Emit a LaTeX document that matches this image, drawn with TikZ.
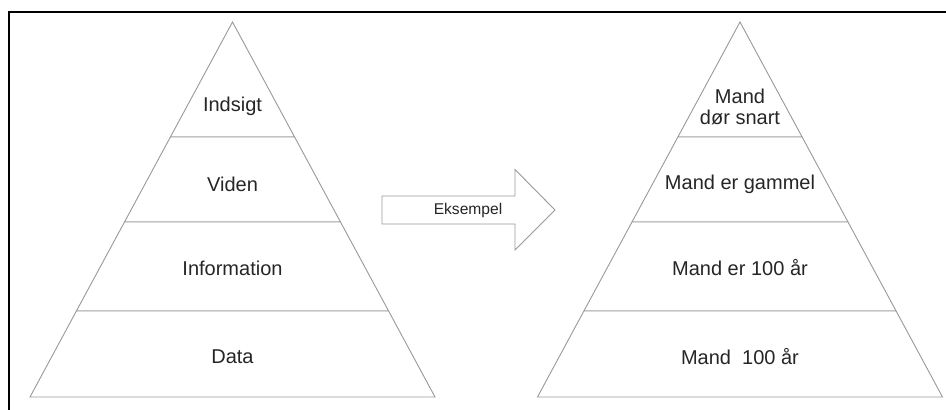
\documentclass[tikz,border=0pt]{standalone}
\usepackage{fontspec}
\setmainfont{Liberation Sans}
\begin{document}
\begin{tikzpicture}[x=1pt,y=-1pt,
  tier/.style={draw=black!40, line width=0.9pt, fill=white},
  label/.style={text=black!85, font=\fontsize{20}{21}\selectfont, align=center, inner sep=0pt},
  arrowlabel/.style={text=black!85, font=\fontsize{15.6}{17}\selectfont, inner sep=0pt},
  frame/.style={draw=black, line width=2.5pt}]
\useasboundingbox (0,0) rectangle (946,410);
% outer frame (only the left and top edges fall inside the page)
\draw[frame] (9,420) -- (9,12) -- (960,12);

% four-tier pyramid: apex at y=22, base at y=397, half base 202.5
\newcommand\pyramid[1]{%
  \begin{scope}[shift={(#1,0)}]
    \draw[tier] (0,22) -- (62.1,137) -- (-62.1,137) -- cycle;
    \draw[tier] (-62.1,137) -- (62.1,137) -- (108,222) -- (-108,222) -- cycle;
    \draw[tier] (-108,222) -- (108,222) -- (156.1,311) -- (-156.1,311) -- cycle;
    \draw[tier] (-156.1,311) -- (156.1,311) -- (202.5,397) -- (-202.5,397) -- cycle;
  \end{scope}}

\pyramid{232.5}
\pyramid{740}

% left pyramid labels
\node[label] (insight) at (232.5,106) {Indsigt};
\node[label] (knowledge) at (232.5,184) {Viden};
\node[label] (information) at (232.5,268) {Information};
\node[label] (data) at (232.5,357) {Data};

% right pyramid labels
\node[label] (ex4) at (740,107) {Mand\\dør snart};
\node[label] (ex3) at (740,184) {Mand er gammel};
\node[label] (ex2) at (740,268) {Mand er 100 år};
\node[label] (ex1) at (740,357) {Mand\ \ 100 år};

% block arrow between the pyramids
\draw[tier] (382,196) -- (515,196) -- (515,169.5) -- (555,210) -- (515,250) -- (515,224) -- (382,224) -- cycle;
\node[arrowlabel] (example) at (468,210) {Eksempel};
\end{tikzpicture}
\end{document}
